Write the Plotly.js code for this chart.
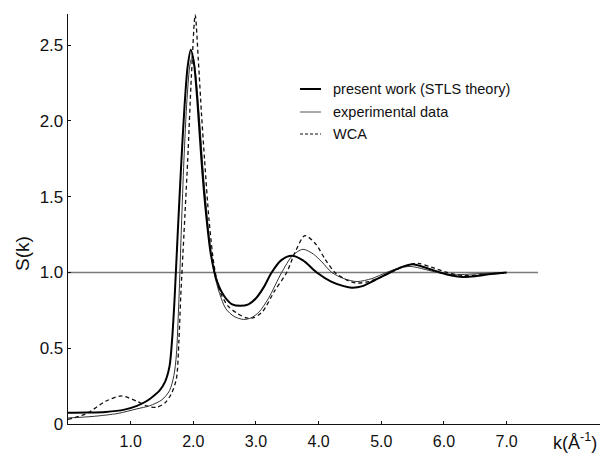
<!DOCTYPE html>
<html>
<head>
<meta charset="utf-8">
<script src="https://cdn.plot.ly/plotly-3.0.1.min.js"></script>
<style>html,body{margin:0;padding:0;background:#fff;}#chart{width:605px;height:453px;}</style>
</head>
<body>
<div id="chart"></div>
<script>
// STLS theory (present work)
const stlsK = [0,0.3,0.6,0.9,1.1,1.25,1.38,1.46,1.55,1.62,1.66,1.70,1.75,1.81,1.86,1.91,1.96,2.01,2.07,2.13,2.2,2.28,2.38,2.5,2.62,2.75,2.88,3.0,3.12,3.25,3.4,3.57,3.75,3.97,4.2,4.4,4.53,4.7,4.9,5.14,5.32,5.5,5.72,5.94,6.12,6.3,6.5,6.75,7.0];
const stlsS = [0.075,0.076,0.08,0.095,0.12,0.15,0.19,0.22,0.28,0.38,0.55,0.82,1.25,1.74,2.1,2.36,2.47,2.38,2.1,1.74,1.4,1.12,0.94,0.84,0.79,0.78,0.79,0.83,0.9,1.0,1.08,1.11,1.08,1.0,0.94,0.91,0.90,0.91,0.95,1.0,1.035,1.054,1.03,1.0,0.98,0.97,0.975,0.99,1.0];
// experimental data
const expK = [0,0.4,0.8,1.1,1.3,1.5,1.62,1.69,1.73,1.77,1.81,1.85,1.9,1.95,1.99,2.04,2.1,2.17,2.25,2.33,2.42,2.52,2.65,2.8,2.92,3.05,3.2,3.41,3.58,3.75,3.92,4.05,4.21,4.4,4.61,4.85,5.08,5.25,5.46,5.7,5.95,6.2,6.45,6.7,7.0];
const expS = [0.04,0.05,0.07,0.10,0.12,0.16,0.22,0.32,0.46,0.82,1.3,1.74,2.15,2.38,2.43,2.3,2.0,1.6,1.25,1.0,0.86,0.76,0.71,0.69,0.70,0.74,0.83,1.0,1.11,1.153,1.12,1.07,1.0,0.96,0.94,0.96,1.0,1.025,1.04,1.02,0.995,0.985,0.99,0.995,1.0];
// WCA
const wcaK = [0,0.3,0.6,0.85,1.1,1.25,1.41,1.55,1.65,1.73,1.77,1.80,1.85,1.91,1.97,2.03,2.08,2.13,2.18,2.25,2.33,2.42,2.55,2.7,2.85,2.95,3.1,3.3,3.49,3.62,3.78,3.95,4.1,4.26,4.45,4.6,4.8,5.0,5.2,5.4,5.59,5.8,6.05,6.3,6.6,7.0];
const wcaS = [0.03,0.07,0.15,0.185,0.15,0.12,0.11,0.14,0.2,0.3,0.55,0.85,1.25,1.74,2.3,2.70,2.4,2.05,1.74,1.35,1.05,0.88,0.78,0.73,0.70,0.70,0.74,0.88,1.0,1.13,1.243,1.19,1.09,1.0,0.95,0.93,0.94,0.97,1.01,1.045,1.06,1.035,1.0,0.98,0.985,1.0];
// reference line S(k)=1
const refK = [0, 7.5];
const refS = [1, 1];

const xTickVals = [1,2,3,4,5,6,7];
const xTickText = ["1.0","2.0","3.0","4.0","5.0","6.0","7.0"];
const yTickVals = [0,0.5,1,1.5,2,2.5];
const yTickText = ["0","0.5","1.0","1.5","2.0","2.5"];
const legendNames = ["present work (STLS theory)","experimental data","WCA"];

const W = 605, H = 453, L = 68, R = 5, T = 14, B = 29;
const px = x => (x - L) / (W - L - R);
const py = y => (H - B - y) / (H - T - B);
const FONT = 'Liberation Sans, Arial, sans-serif';

const traces = [
  {x: refK, y: refS, mode: 'lines', line: {color: '#7a7a7a', width: 1.5}, hoverinfo: 'skip'},
  {x: expK, y: expS, mode: 'lines', line: {color: '#333', width: 1, shape: 'spline', smoothing: 0.8}, name: legendNames[1]},
  {x: wcaK, y: wcaS, mode: 'lines', line: {color: '#111', width: 1.3, dash: '4px,3px', shape: 'spline', smoothing: 0.8}, name: legendNames[2]},
  {x: stlsK, y: stlsS, mode: 'lines', line: {color: '#000', width: 2, shape: 'spline', smoothing: 0.8}, name: legendNames[0]}
];

const legRows = [89, 112, 134];
const legStyles = [{color:'#000', width:2}, {color:'#555', width:1}, {color:'#111', width:1.2, dash:'3px,2px'}];
const shapes = legRows.map((y, i) => ({type:'line', xref:'paper', yref:'paper', x0: px(300), x1: px(321), y0: py(y), y1: py(y), line: legStyles[i]}));
const annotations = legRows.map((y, i) => ({xref:'paper', yref:'paper', x: px(331), y: py(y), xanchor:'left', yanchor:'middle', text: legendNames[i], showarrow:false, font:{family: FONT, size:14.5, color:'#111'}}));
annotations.push({xref:'paper', yref:'paper', x: px(22), y: py(254), text:'S(k)', textangle:-90, showarrow:false, xanchor:'center', yanchor:'middle', font:{family: FONT, size:19, color:'#111'}});
annotations.push({xref:'paper', yref:'paper', x: px(575), y: py(441), text:'k(Å<sup>-1</sup>)', showarrow:false, xanchor:'center', yanchor:'middle', font:{family: FONT, size:18, color:'#111'}});

const layout = {
  width: W, height: H,
  margin: {l: L, r: R, t: T, b: B, pad: 0},
  paper_bgcolor: '#fff', plot_bgcolor: '#fff',
  showlegend: false,
  xaxis: {range: [0, 8.49], tickvals: xTickVals, ticktext: xTickText, ticks: 'inside', ticklen: 3, tickwidth: 1, tickcolor: '#111',
          showline: true, linecolor: '#111', linewidth: 1.3, showgrid: false, zeroline: false, ticklabelstandoff: 2,
          tickfont: {family: FONT, size: 16, color:'#111'}},
  yaxis: {range: [0, 2.706], tickvals: yTickVals, ticktext: yTickText, ticks: 'inside', ticklen: 3, tickwidth: 1, tickcolor: '#111',
          showline: true, linecolor: '#111', linewidth: 1.3, showgrid: false, zeroline: false,
          tickfont: {family: FONT, size: 17, color:'#111'}},
  shapes: shapes,
  annotations: annotations
};

Plotly.newPlot('chart', traces, layout, {staticPlot: true, displayModeBar: false});
</script>
</body>
</html>
